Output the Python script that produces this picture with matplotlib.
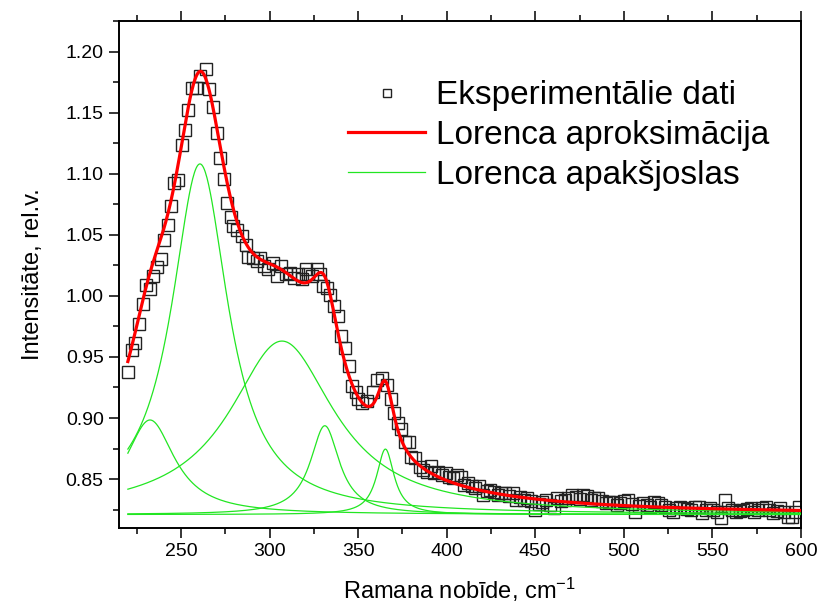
import numpy as np
import matplotlib
matplotlib.use("Agg")
import matplotlib.pyplot as plt
from matplotlib.ticker import MultipleLocator, FormatStrFormatter

plt.rcParams["font.family"] = ["Liberation Sans", "DejaVu Sans"]
plt.rcParams["mathtext.fontset"] = "custom"
plt.rcParams["mathtext.rm"] = "Liberation Sans"
plt.rcParams["mathtext.it"] = "Liberation Sans:italic"

# measured spectrum
shift = [
    220.3, 222.2, 224.1, 226.3, 228.4, 230.2, 232.5, 234.4, 236.6, 238.5,
    240.4, 242.5, 244.3, 246.2, 248.5, 250.4, 252.3, 254.1, 256.0, 258.5,
    260.7, 264.1, 266.0, 268.2, 270.3, 272.0, 274.2, 275.7, 278.0, 279.5,
    281.8, 284.2, 286.5, 288.0, 290.4, 292.7, 294.6, 297.0, 299.3, 302.1,
    304.0, 306.4, 309.1, 311.5, 313.8, 316.2, 318.5, 320.4, 321.5, 323.8,
    326.6, 328.5, 330.0, 332.3, 334.2, 336.6, 338.9, 340.2, 342.7, 345.1,
    346.8, 348.7, 350.2, 352.4, 354.9, 358.3, 360.9, 363.4, 366.2, 368.5,
    370.0, 372.5, 374.4, 376.6, 378.5, 380.0, 382.3, 384.7,
    386.8, 388.9, 391.0, 393.1, 395.2, 397.3, 399.4, 401.5, 403.6, 405.7,
    407.8, 409.9, 412.0, 414.1, 416.2, 418.3, 420.4, 422.5, 424.6, 426.7,
    428.8, 430.9, 433.0, 435.1, 437.2, 439.3, 441.4, 443.5, 445.6, 447.7,
    449.8, 451.9, 454.0, 456.1, 458.2, 460.3, 462.4, 464.5, 466.6, 468.7,
    470.8, 472.9, 475.0, 477.1, 479.2, 481.3, 483.4, 485.5, 487.6, 489.7,
    491.8, 493.9, 496.0, 498.1, 500.2, 502.3, 504.4, 506.5, 508.6, 510.7,
    512.8, 514.9, 517.0, 519.1, 521.2, 523.3, 525.4, 527.5, 529.6, 531.7,
    533.8, 535.9, 538.0, 540.1, 542.2, 544.3, 546.4, 548.5, 550.6, 552.7,
    554.8, 556.9, 559.0, 561.1, 563.2, 565.3, 567.4, 569.5, 571.6, 573.7,
    575.8, 577.9, 580.0, 582.1, 584.2, 586.3, 588.4, 590.5, 592.6, 594.7,
    596.8, 598.9,
]
intensity = [
    0.9377, 0.9560, 0.9615, 0.9773, 0.9937, 1.0085, 1.0057, 1.0166, 1.0238, 1.0298,
    1.0461, 1.0579, 1.0734, 1.0920, 1.0948, 1.1234, 1.1357, 1.1521, 1.1705, 1.1705,
    1.1800, 1.1861, 1.1691, 1.1546, 1.1336, 1.1128, 1.0953, 1.0762, 1.0642, 1.0571,
    1.0538, 1.0489, 1.0418, 1.0320, 1.0306, 1.0284, 1.0306, 1.0243, 1.0221, 1.0265,
    1.0166, 1.0248, 1.0175, 1.0189, 1.0148, 1.0175, 1.0139, 1.0221, 1.0175, 1.0166,
    1.0221, 1.0175, 1.0079, 1.0066, 1.0011, 0.9915, 0.9833, 0.9675, 0.9574, 0.9423,
    0.9265, 0.9213, 0.9156, 0.9123, 0.9136, 0.9213, 0.9308, 0.9328, 0.9273, 0.9156,
    0.9041, 0.8959, 0.8910, 0.8800, 0.8800, 0.8685, 0.8672, 0.8603,
    0.8576, 0.8560, 0.8609, 0.8549, 0.8555, 0.8535, 0.8549, 0.8520, 0.8508, 0.8530,
    0.8516, 0.8453, 0.8467, 0.8440, 0.8426, 0.8445, 0.8372, 0.8400, 0.8414, 0.8395,
    0.8372, 0.8390, 0.8385, 0.8360, 0.8385, 0.8330, 0.8350, 0.8330, 0.8345, 0.8320,
    0.8248, 0.8300, 0.8315, 0.8330, 0.8290, 0.8262, 0.8344, 0.8320, 0.8330, 0.8344,
    0.8371, 0.8355, 0.8340, 0.8371, 0.8360, 0.8330, 0.8345, 0.8344, 0.8320, 0.8305,
    0.8316, 0.8316, 0.8290, 0.8303, 0.8320, 0.8330, 0.8300, 0.8234, 0.8280, 0.8303,
    0.8290, 0.8275, 0.8316, 0.8303, 0.8285, 0.8275, 0.8250, 0.8234, 0.8260, 0.8275,
    0.8262, 0.8255, 0.8248, 0.8270, 0.8275, 0.8221, 0.8245, 0.8262, 0.8248, 0.8230,
    0.8180, 0.8330, 0.8260, 0.8248, 0.8234, 0.8240, 0.8248, 0.8255, 0.8262, 0.8234,
    0.8250, 0.8262, 0.8275, 0.8245, 0.8221, 0.8240, 0.8262, 0.8230, 0.8193, 0.8193,
    0.8230, 0.8275,
]

# Lorentz fit: offset and sub-band parameters
y0 = 0.821
centers = [232.5, 260.7, 307.0, 331.2, 365.4]
heights = [0.0774, 0.287, 0.142, 0.0727, 0.0536]
half_widths = [17.0, 19.5, 36.0, 10.0, 6.0]


def lorentz(x, xc, h, w):
    return h / (1.0 + ((x - xc) / w) ** 2)


xf = np.linspace(220, 600, 800)
bands = [lorentz(xf, c, h, w) for c, h, w in zip(centers, heights, half_widths)]
fit = y0 + np.sum(bands, axis=0)

fig = plt.figure(figsize=(8.19, 6.08), dpi=100)
ax = fig.add_axes([0.1453, 0.1316, 0.8327, 0.8339])

ax.plot(shift, intensity, ls="none", marker="s", ms=8, mfc="none",
        mec="#222222", mew=1.0, zorder=2, label="Eksperimentālie dati")
for i, b in enumerate(bands):
    ax.plot(xf, y0 + b, color="#22e622", lw=0.9, zorder=3,
            label="Lorenca apakšjoslas" if i == 0 else None)
ax.plot(xf, fit, color="#ff0000", lw=2.3, zorder=4,
        label="Lorenca aproksimācija")

ax.set_xlim(215, 600)
ax.set_ylim(0.81, 1.225)
ax.xaxis.set_major_locator(MultipleLocator(50))
ax.xaxis.set_minor_locator(MultipleLocator(25))
ax.yaxis.set_major_locator(MultipleLocator(0.05))
ax.yaxis.set_minor_locator(MultipleLocator(0.025))
ax.yaxis.set_major_formatter(FormatStrFormatter("%.2f"))

ax.tick_params(which="both", direction="out", width=1.1, labelsize=14,
               top=True, right=False, pad=4)
ax.tick_params(which="major", length=7)
ax.tick_params(which="minor", length=4)
for s in ax.spines.values():
    s.set_linewidth(1.4)

ax.set_xlabel("Ramana nobīde, cm$^{-1}$", fontsize=17, labelpad=11)
ax.set_ylabel("Intensitāte, rel.v.", fontsize=17, labelpad=16)

handles, labels = ax.get_legend_handles_labels()
order = [labels.index(l) for l in
         ["Eksperimentālie dati", "Lorenca aproksimācija", "Lorenca apakšjoslas"]]
ax.legend([handles[i] for i in order], [labels[i] for i in order],
          loc="upper left", bbox_to_anchor=(0.336, 0.883), frameon=False,
          fontsize=24, handlelength=2.31, handletextpad=0.33,
          labelspacing=0.26, markerscale=0.8, borderpad=0, borderaxespad=0)

fig.savefig("out.png", dpi=100)
